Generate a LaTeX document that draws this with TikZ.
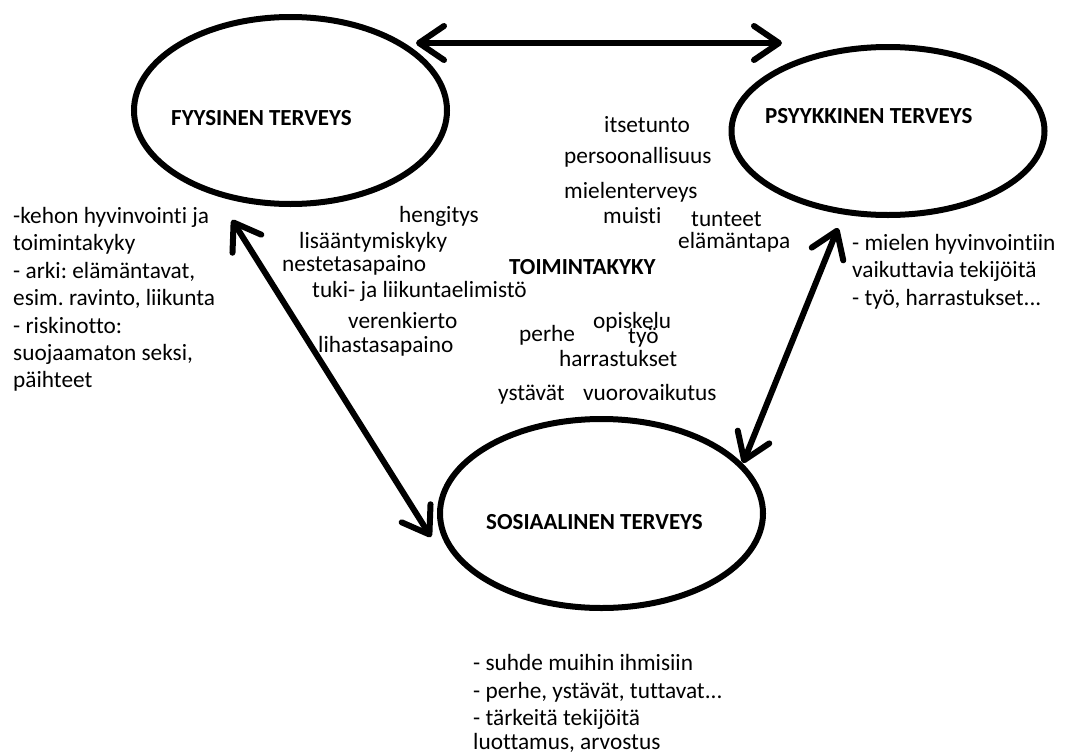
\documentclass[tikz,border=0pt]{standalone}
\usepackage{fontspec}
\setmainfont{Carlito}[Ligatures={NoCommon}]
\usetikzlibrary{arrows.meta,shapes.geometric}
\frenchspacing
\begin{document}
\begin{tikzpicture}[x=1pt,y=-1pt,
  ell/.style={draw, line width=6pt, ellipse, inner sep=0pt},
  arr/.style={line width=6pt, line cap=round, {Straight Barb[length=25pt,width=34pt,line cap=round,line join=round]}-{Straight Barb[length=25pt,width=34pt,line cap=round,line join=round]}},
  txt/.style={anchor=base west, inner sep=0pt, font=\fontsize{23.3}{27.4}\selectfont},
  ttl/.style={anchor=base west, inner sep=0pt, font=\fontsize{23}{27.4}\selectfont\bfseries}]
\useasboundingbox (0,0) rectangle (1071,755);
% ellipses
\node[ell, minimum width=313pt, minimum height=187pt] (fy) at (290.5,110.5) {};
\node[ell, minimum width=313pt, minimum height=168pt] (ps) at (888,131) {};
\node[ell, minimum width=323pt, minimum height=189pt] (so) at (601.5,513.5) {};
% titles
\node[ttl] (fyt) at (171,125) {FYYSINEN TERVEYS};
\node[ttl] (pst) at (765,123) {PSYYKKINEN TERVEYS};
\node[ttl] (sot) at (486,529) {SOSIAALINEN TERVEYS};
\node[ttl] (tk) at (509,274) {TOIMINTAKYKY};
% arrows
\coordinate (a1) at (416,43);
\coordinate (a2) at (782,43);
\coordinate (b1) at (232,220);
\coordinate (b2) at (431,537);
\coordinate (c1) at (838,228);
\coordinate (c2) at (743,463);
\draw[arr] (a1) -- (a2);
\draw[arr] (b1) -- (b2);
\draw[arr] (c1) -- (c2);
% left block
\node[txt] (l1) at (13,223) {-kehon hyvinvointi ja};
\node[txt] (l2) at (13,250) {toimintakyky};
\node[txt] (l3) at (13,278) {- arki: elämäntavat,};
\node[txt] (l4) at (13,305) {esim. ravinto, liikunta};
\node[txt] (l5) at (13,333) {- riskinotto:};
\node[txt] (l6) at (13,360) {suojaamaton seksi,};
\node[txt] (l7) at (13,387) {päihteet};
% physical words
\node[txt] (w1) at (399,222) {hengitys};
\node[txt] (w2) at (299,248) {lisääntymiskyky};
\node[txt] (w3) at (282,271) {nestetasapaino};
\node[txt] (w4) at (312,297) {tuki- ja liikuntaelimistö};
\node[txt] (w5) at (348,328) {verenkierto};
\node[txt] (w6) at (318,352) {lihastasapaino};
% psychic words
\node[txt] (p1) at (604,132) {itsetunto};
\node[txt] (p2) at (564,163) {persoonallisuus};
\node[txt] (p3) at (564,198) {mielenterveys};
\node[txt] (p4) at (603,223) {muisti};
\node[txt] (p5) at (691,226) {tunteet};
\node[txt] (p6) at (678,248) {elämäntapa};
% social words
\node[txt] (s1) at (593,328) {opiskelu};
\node[txt] (s2) at (519,341) {perhe};
\node[txt] (s3) at (628,343) {työ};
\node[txt] (s4) at (559,366) {harrastukset};
\node[txt] (s5) at (498,400) {ystävät};
\node[txt] (s6) at (583,400) {vuorovaikutus};
% right block
\node[txt] (r1) at (852,250) {- mielen hyvinvointiin};
\node[txt] (r2) at (852,277) {vaikuttavia tekijöitä};
\node[txt] (r3) at (852,305) {- työ, harrastukset...};
% bottom block
\node[txt] (b1t) at (473,670) {- suhde muihin ihmisiin};
\node[txt] (b2t) at (473,698) {- perhe, ystävät, tuttavat...};
\node[txt] (b3t) at (473,725) {- tärkeitä tekijöitä};
\node[txt] (b4t) at (473,749) {luottamus, arvostus};
\end{tikzpicture}
\end{document}
